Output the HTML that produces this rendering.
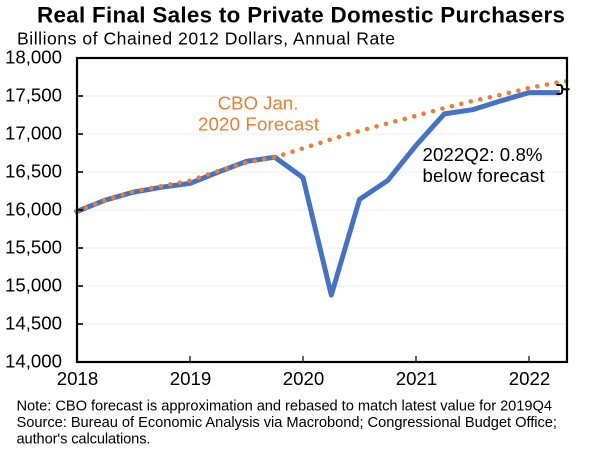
<!DOCTYPE html>
<html><head><meta charset="utf-8"><title>Real Final Sales to Private Domestic Purchasers</title>
<style>html,body{margin:0;padding:0;background:#fff}svg{display:block}text{font-family:"Liberation Sans",Arial,sans-serif}</style></head>
<body>
<svg id="chart" width="601" height="451" viewBox="0 0 601 451" xmlns="http://www.w3.org/2000/svg">
<defs><clipPath id="plot-clip"><rect x="70" y="50" width="500" height="320"/></clipPath></defs>
<text x="37" y="22.5" font-size="22.4" font-weight="bold" fill="#000" textLength="528" lengthAdjust="spacing">Real Final Sales to Private Domestic Purchasers</text>
<text x="17" y="44.5" font-size="17.6" fill="#000" textLength="378" lengthAdjust="spacing">Billions of Chained 2012 Dollars, Annual Rate</text>
<g id="grid"></g><g id="series"></g><g id="axes"></g>
<text x="258" y="109.5" text-anchor="middle" font-size="18.67" fill="#ED7D31">CBO Jan.</text>
<text x="258.5" y="130.5" text-anchor="middle" font-size="18.67" fill="#ED7D31" textLength="121" lengthAdjust="spacing">2020 Forecast</text>
<text x="422.5" y="161" font-size="18.67" fill="#000" textLength="120" lengthAdjust="spacing">2022Q2: 0.8%</text>
<text x="422.5" y="182" font-size="18.67" fill="#000" textLength="122" lengthAdjust="spacing">below forecast</text>
<path d="M556.5 85 H559.5 Q562 85 562 87 Q562 89.3 564 89.3 H569.5 M564 89.3 Q562 89.3 562 91.5 Q562 94 559.5 94 H556.5" fill="none" stroke="#000" stroke-width="2"/>
<text x="16.5" y="410.5" font-size="14.67" fill="#000" textLength="535.5" lengthAdjust="spacing">Note: CBO forecast is approximation and rebased to match latest value for 2019Q4</text>
<text x="16.5" y="427" font-size="14.67" fill="#000" textLength="540.5" lengthAdjust="spacing">Source: Bureau of Economic Analysis via Macrobond; Congressional Budget Office;</text>
<text x="16.5" y="443.5" font-size="14.67" fill="#000" textLength="134" lengthAdjust="spacing">author's calculations.</text>
</svg>
<script>
const yearLabels = ["2018", "2019", "2020", "2021", "2022"];
const yTicks = [14000, 14500, 15000, 15500, 16000, 16500, 17000, 17500, 18000];
const actualValues = [15980, 16130, 16235, 16300, 16350, 16500, 16640, 16695, 16425, 14880, 16140, 16390, 16850, 17265, 17320, 17435, 17545, 17545];
const forecastValues = [15980, 16130, 16245, 16315, 16385, 16515, 16625, 16695, 16810, 16930, 17040, 17140, 17240, 17342, 17434, 17515, 17605, 17678, 17730];

const NS = "http://www.w3.org/2000/svg";
const plotLeft = 77, plotRight = 567, plotTop = 58, plotBottom = 362, quarterStep = 28.25;
const xScale = q => plotLeft + q * quarterStep;
const yScale = v => plotBottom - (v - 14000) / 4000 * (plotBottom - plotTop);
const pathFrom = vals => vals.map((v, i) => (i ? "L" : "M") + xScale(i).toFixed(1) + " " + yScale(v).toFixed(1)).join(" ");
const grid = document.getElementById("grid");
const series = document.getElementById("series");
const axes = document.getElementById("axes");
function make(parent, tag, attrs, text) {
  const el = document.createElementNS(NS, tag);
  for (const k in attrs) el.setAttribute(k, attrs[k]);
  if (text !== undefined) el.textContent = text;
  parent.appendChild(el);
  return el;
}
yTicks.forEach(t => {
  const y = yScale(t);
  if (t > 14000 && t < 18000) {
    const g = make(grid, "line", {x1: plotLeft, x2: plotRight, y1: y, y2: y, stroke: "#ececec", "stroke-width": 1});
    
    
    const k = make(axes, "line", {x1: plotLeft, x2: plotLeft + 6, y1: y, y2: y, stroke: "#000", "stroke-width": 1.6});
    
    
  }
  const l = make(axes, "text", {x: 62, y: y + 5.5, "text-anchor": "end", "font-size": 18.67, fill: "#000"}, t.toLocaleString("en-US"));
  
  
});
const actualLine = make(series, "path", {d: pathFrom(actualValues), fill: "none", stroke: "#4472C4", "stroke-width": 5, "stroke-linejoin": "round", "stroke-linecap": "square", "clip-path": "url(#plot-clip)"});


const forecastLine = make(series, "path", {d: pathFrom(forecastValues), fill: "none", stroke: "#ED7D31", "stroke-width": 4.6, "stroke-linecap": "round", "stroke-dasharray": "0 9.75", "clip-path": "url(#plot-clip)"});


const frame = make(axes, "rect", {x: plotLeft, y: plotTop, width: plotRight - plotLeft, height: plotBottom - plotTop, fill: "none", stroke: "#000", "stroke-width": 2.2});


yearLabels.forEach((lab, i) => {
  const x = xScale(i * 4);
  if (i > 0) {
    const k = make(axes, "line", {x1: x, x2: x, y1: plotBottom, y2: plotBottom - 6, stroke: "#000", "stroke-width": 1.2});
    
    
  }
  const l = make(axes, "text", {x: x + 0.5, y: 385, "text-anchor": "middle", "font-size": 18.67, fill: "#000"}, lab);
  
  
});
</script>
</body></html>
